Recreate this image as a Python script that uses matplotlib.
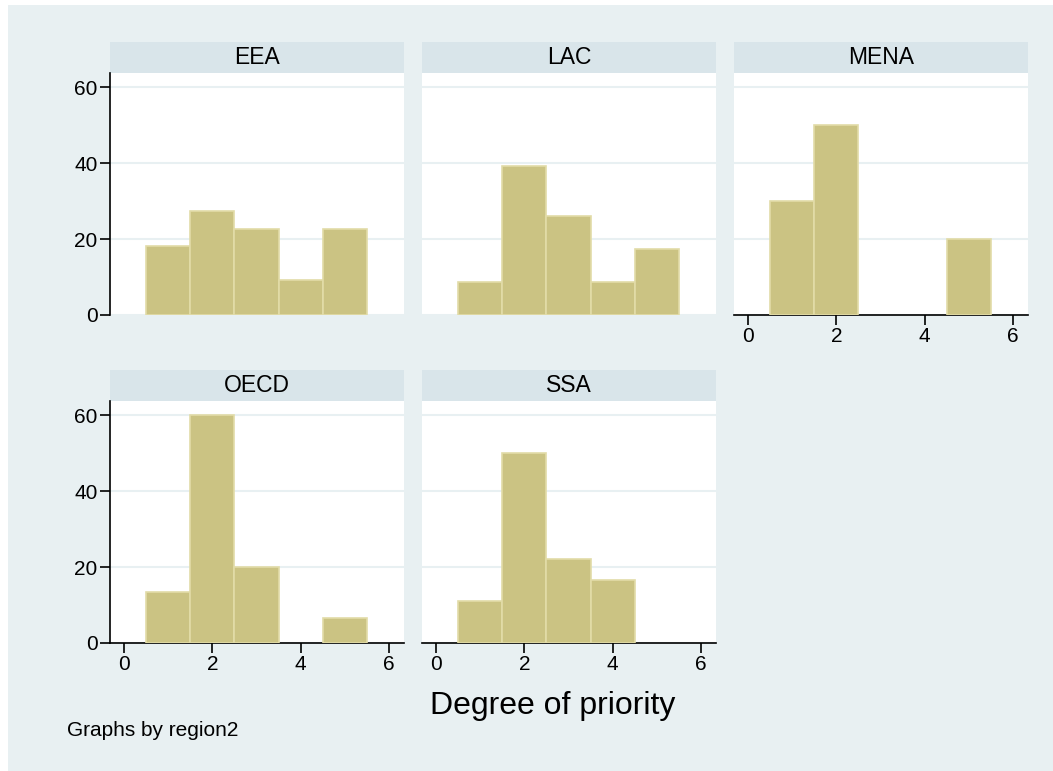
import matplotlib.pyplot as plt
from matplotlib.patches import Rectangle

plt.rcParams["font.family"] = ["Liberation Sans", "DejaVu Sans"]

# Datos: porcentaje por grado de prioridad (1..5) y región
regiones = ["EEA", "LAC", "MENA", "OECD", "SSA"]
grados = [1, 2, 3, 4, 5]
eea = [18.2, 27.3, 22.7, 9.1, 22.7]
lac = [8.7, 39.1, 26.1, 8.7, 17.4]
mena = [30.0, 50.0, 0.0, 0.0, 20.0]
oecd = [13.3, 60.0, 20.0, 0.0, 6.7]
ssa = [11.1, 50.0, 22.2, 16.7, 0.0]
valores = [eea, lac, mena, oecd, ssa]
yticks = [0, 20, 40, 60]
xticks = [0, 2, 4, 6]

W, H = 1053, 771
fondo = "#e8f0f2"
franja = "#d9e5ea"
relleno = "#cbc383"
borde = "#e2dca8"
rejilla = "#e8f0f2"

fig = plt.figure(figsize=(W / 100, H / 100), dpi=100)
fig.patch.set_facecolor("white")
fig.patches.append(Rectangle((8 / W, 0), 1, 1 - 5 / H, transform=fig.transFigure,
                             facecolor=fondo, edgecolor="none", zorder=-10))

lefts = [110, 422, 734]
bottoms = [315, 643]
ancho, alto, alto_franja = 294, 242, 31

for i, (reg, vals) in enumerate(zip(regiones, valores)):
    fila, col = divmod(i, 3)
    x0 = lefts[col]
    y0 = bottoms[fila]
    ax = fig.add_axes([x0 / W, 1 - y0 / H, ancho / W, alto / H])
    ax.set_facecolor("white")
    # solo las barras con frecuencia distinta de cero
    xs = [g for g, v in zip(grados, vals) if v > 0]
    hs = [v for v in vals if v > 0]
    ax.bar(xs, hs, width=1.0, color=relleno, edgecolor=borde, linewidth=1.2, zorder=3)
    ax.set_xlim(-0.32, 6.34)
    ax.set_ylim(0, 63.7)
    ax.set_yticks(yticks)
    ax.set_xticks(xticks)
    for t in yticks:
        ax.axhline(t, color=rejilla, linewidth=1.5, zorder=1)
    for s in ax.spines.values():
        s.set_visible(False)

    muestra_y = col == 0
    muestra_x = (fila == 1) or (col == 2)
    if muestra_y:
        ax.spines["left"].set_visible(True)
        ax.spines["left"].set_color("black")
        ax.spines["left"].set_linewidth(1.2)
    if muestra_x:
        ax.spines["bottom"].set_visible(True)
        ax.spines["bottom"].set_color("black")
        ax.spines["bottom"].set_linewidth(1.2)
    ax.tick_params(axis="y", left=muestra_y, labelleft=muestra_y, labelsize=15,
                   length=7, width=1.2, pad=2)
    ax.tick_params(axis="x", bottom=muestra_x, labelbottom=muestra_x, labelsize=15,
                   length=7, width=1.2, pad=2)

    # franja con el nombre de la región
    ax.add_patch(Rectangle((0, 1), 1, alto_franja / alto, transform=ax.transAxes,
                           facecolor=franja, edgecolor="none", clip_on=False))
    ax.text(0.5, 1 + alto_franja / alto / 2, reg, transform=ax.transAxes,
            ha="center", va="center", fontsize=16.5)

fig.text(553 / W, 1 - 706 / H, "Degree of priority", ha="center", va="center", fontsize=23)
fig.text(67 / W, 1 - 731 / H, "Graphs by region2", ha="left", va="center", fontsize=15)

fig.savefig("out.png", dpi=100, facecolor=fig.get_facecolor())
